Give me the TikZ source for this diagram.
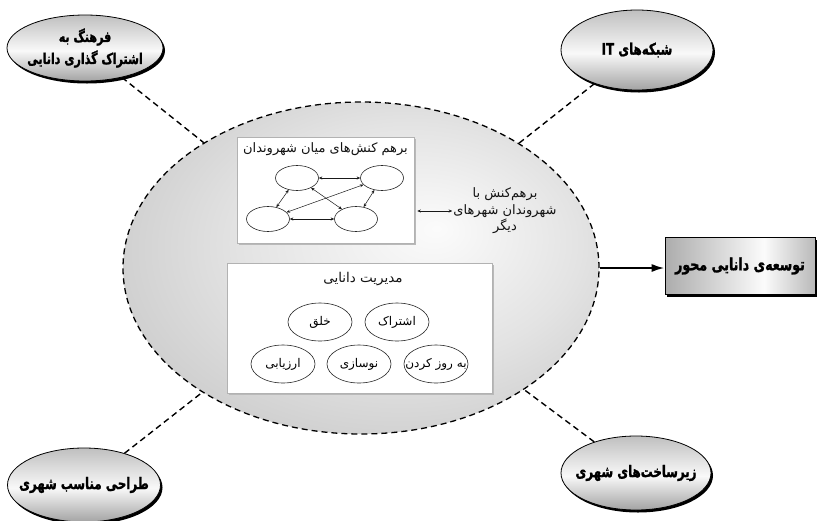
\documentclass[tikz,border=0pt]{standalone}
\usepackage{fontspec}
\newfontfamily\farsi[Script=Arabic]{DejaVu Sans}
\newfontfamily\farsiheavy[Script=Arabic, FakeStretch=0.74, FakeBold=1.3, UprightFont={* Bold}]{DejaVu Sans}
\TeXXeTstate=1
\usetikzlibrary{shapes.geometric,arrows.meta,shadows}
\newcommand\fatext[1]{\beginR #1\endR}
\pgfdeclareradialshading{hubglow}{\pgfpoint{8bp}{6bp}}{color(0bp)=(gray!3); color(18bp)=(gray!22); color(33bp)=(gray!42); color(50bp)=(gray!48)}
\pgfdeclareverticalshading{badge}{100bp}{color(0bp)=(gray!72); color(25bp)=(gray!72); color(48bp)=(gray!5); color(75bp)=(gray!50); color(100bp)=(gray!50)}
\pgfdeclarehorizontalshading{plate}{100bp}{color(0bp)=(gray!65); color(25bp)=(gray!65); color(58bp)=(gray!3); color(75bp)=(gray!55); color(100bp)=(gray!55)}

\begin{document}
\begin{tikzpicture}[x=1pt,y=-1pt,
    outer/.style={ellipse, draw=black, line width=0.8pt, shading=badge, inner xsep=-14pt, inner ysep=-5pt, align=center,
        drop shadow={fill=black, opacity=1, shadow xshift=2pt, shadow yshift=-2.5pt},
        font=\farsiheavy\fontsize{16}{22}\selectfont},
    panel/.style={draw=gray!60, fill=white, line width=0.6pt,
        drop shadow={fill=gray!55, opacity=1, shadow xshift=1.5pt, shadow yshift=-1.5pt}},
    member/.style={ellipse, draw=gray!30!black, line width=0.6pt, minimum width=43pt, minimum height=25pt},
    task/.style={ellipse, draw=gray!30!black, line width=0.6pt, minimum width=64pt, minimum height=38pt,
        inner xsep=-10pt, inner ysep=0pt, font=\farsi\fontsize{12}{14}\selectfont},
    tie/.style={{Stealth[length=3.5pt,width=3pt]}-{Stealth[length=3.5pt,width=3pt]}, line width=0.5pt, gray!20!black},
    link/.style={line width=1.4pt, dash pattern=on 6pt off 4pt}
]
    \useasboundingbox (0,0) rectangle (820,520);

    \node[ellipse, minimum width=476pt, minimum height=332pt, shading=hubglow, draw, line width=1.3pt,
        dash pattern=on 6pt off 4pt] (hub) at (361,268) {};

    \node[outer, minimum width=156pt, minimum height=66pt, font=\farsiheavy\fontsize{15}{22}\selectfont] (culture) at (85,48)
        {\fatext{فرهنگ به}\\\fatext{اشتراک گذاری دانایی}};
    \node[outer, minimum width=152pt, minimum height=80pt] (network) at (637,50)
        {\fatext{شبکه‌های \beginL IT\endL}};
    \node[outer, minimum width=153pt, minimum height=74pt] (design) at (84,485)
        {\fatext{طراحی مناسب شهری}};
    \node[outer, minimum width=150pt, minimum height=74pt] (infra) at (636,473)
        {\fatext{زیرساخت‌های شهری}};

    \draw[link] (culture) -- (hub);
    \draw[link] (network) -- (hub);
    \draw[link] (design) -- (hub);
    \draw[link] (infra) -- (hub);

    \node[panel, minimum width=177pt, minimum height=106pt] (citizens) at (325.5,190) {};
    \node[font=\farsi\fontsize{13}{15}\selectfont, text=gray!15!black] (citizenstitle) at (325.5,149)
        {\fatext{برهم کنش‌های میان شهروندان}};
    \node[member] (c1) at (297,178) {};
    \node[member] (c2) at (382,178) {};
    \node[member] (c3) at (268,219) {};
    \node[member] (c4) at (356,219) {};
    \foreach \a/\b in {c1/c2, c3/c4, c1/c3, c2/c4, c1/c4, c2/c3}
        \draw[tie] (\a) -- (\b);

    \node[font=\farsi\fontsize{13}{16.5}\selectfont, align=center, text=gray!15!black, inner sep=1pt] (peers) at (505,211)
        {\fatext{برهم‌کنش با}\\\fatext{شهروندان شهرهای}\\\fatext{دیگر}};
    \draw[tie] (peers.west) -- ([xshift=3pt]peers.west -| citizens.east);

    \node[panel, minimum width=265pt, minimum height=130pt] (knowledge) at (359.5,328) {};
    \node[font=\farsi\fontsize{13.5}{15}\selectfont, text=gray!15!black] (knowledgetitle) at (363,279)
        {\fatext{مدیریت دانایی}};
    \node[task] (create) at (320,322) {\fatext{خلق}};
    \node[task] (share) at (397,322) {\fatext{اشتراک}};
    \node[task] (assess) at (283,364) {\fatext{ارزیابی}};
    \node[task] (renew) at (359,364) {\fatext{نوسازی}};
    \node[task] (update) at (436,364) {\fatext{به روز کردن}};

    \node[draw=black, line width=0.6pt, shading=plate, minimum width=150pt, minimum height=57pt, inner xsep=0pt,
        drop shadow={fill=black, opacity=1, shadow xshift=2pt, shadow yshift=-2.5pt},
        font=\farsiheavy\fontsize{17}{20}\selectfont] (goal) at (740,266)
        {\fatext{توسعه‌ی دانایی محور}};
    \draw[line width=2.2pt, -{Latex[length=13pt,width=8pt]}] (hub.east) -- (goal.west |- hub.east);
\end{tikzpicture}
\end{document}
